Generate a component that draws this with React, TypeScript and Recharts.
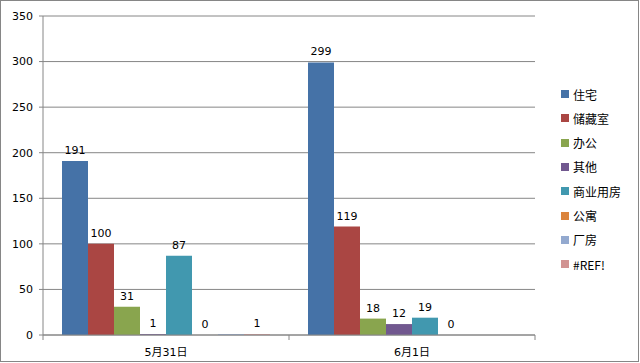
import React from 'react';
import { BarChart, Bar, XAxis, YAxis, CartesianGrid, LabelList } from 'recharts';

const categories = ['5月31日', '6月1日'];
const seriesNames = ['住宅', '储藏室', '办公', '其他', '商业用房', '公寓', '厂房', '#REF!'];
const seriesColors = ['#4572A7', '#AA4643', '#89A54E', '#71588F', '#4198AF', '#DB843D', '#93A9CF', '#D19392'];
const zhuzhai = [191, 299];
const chucangshi = [100, 119];
const bangong = [31, 18];
const qita = [1, 12];
const shangye = [87, 19];
const gongyu = [0, 0];
const changfang = [1, null];
const ref = [1, null];
const showLabels = [true, true, true, true, true, true, false, true];
const yTicks = [0, 50, 100, 150, 200, 250, 300, 350];

const seriesValues = [zhuzhai, chucangshi, bangong, qita, shangye, gongyu, changfang, ref];
const data = categories.map((c, i) => {
  const row: any = { name: c };
  seriesNames.forEach((s, k) => {
    row['s' + k] = seriesValues[k][i];
  });
  return row;
});

const FONT = '"DejaVu Sans", "Noto Sans CJK SC", sans-serif';
const GRID = '#868686';

const XTick = (props: any) => {
  const { x, y, payload, width, visibleTicksCount, index } = props;
  const half = width / visibleTicksCount / 2;
  return (
    <g>
      <line x1={x - half} x2={x - half} y1={y} y2={y + 5} stroke={GRID} />
      {index === visibleTicksCount - 1 && (
        <line x1={x + half} x2={x + half} y1={y} y2={y + 5} stroke={GRID} />
      )}
      <text x={x} y={y + 17} textAnchor="middle" dominantBaseline="central" fontSize={11} fontFamily={FONT} fill="#000">
        {payload.value}
      </text>
    </g>
  );
};

const TopLabel = (props: any) => {
  const { x, y, width, value } = props;
  if (value === null || value === undefined) return null;
  return (
    <text x={x + width / 2} y={y - 7} textAnchor="middle" fontSize={11} fontFamily={FONT} fill="#000">
      {String(value)}
    </text>
  );
};

export default function App() {
  return (
    <div style={{ position: 'absolute', left: 0, top: 0, width: 640, height: 363, background: '#fff' }}>
      <div style={{ position: 'absolute', left: 0, top: 0, width: 637, height: 360, border: '1px solid #868686' }} />
      <BarChart
        width={640}
        height={363}
        data={data}
        margin={{ top: 16, right: 105, bottom: 0, left: 0 }}
        barCategoryGap={19}
        barGap={0}
      >
        <CartesianGrid vertical={false} stroke={GRID} strokeWidth={1} />
        <XAxis
          dataKey="name"
          height={28}
          tickLine={false}
          tickSize={0}
          tickMargin={0}
          axisLine={{ stroke: GRID }}
          tick={<XTick />}
          interval={0}
        />
        <YAxis
          width={43}
          domain={[0, 350]}
          ticks={yTicks}
          tickSize={4}
          tickMargin={6}
          axisLine={{ stroke: GRID }}
          tickLine={{ stroke: GRID }}
          tick={{ fontSize: 11, fontFamily: FONT, fill: '#000' }}
          interval={0}
        />
        {seriesNames.map((s, k) => (
          <Bar
            key={s}
            dataKey={'s' + k}
            name={s}
            fill={seriesColors[k]}
            minPointSize={0.01}
            isAnimationActive={false}
          >
            {showLabels[k] && <LabelList dataKey={'s' + k} content={<TopLabel />} />}
          </Bar>
        ))}
      </BarChart>
      {seriesNames.map((s, k) => (
        <div
          key={s}
          style={{
            position: 'absolute',
            left: 561,
            top: 94 + k * 24.3 - 8,
            height: 16,
            display: 'flex',
            alignItems: 'center',
            fontFamily: '"Noto Sans CJK SC", "DejaVu Sans", sans-serif',
            fontSize: 12,
            color: '#000',
            whiteSpace: 'nowrap',
          }}
        >
          <span style={{ display: 'inline-block', width: 8, height: 8, background: seriesColors[k], marginRight: 4 }} />
          <span>{s}</span>
        </div>
      ))}
    </div>
  );
}
